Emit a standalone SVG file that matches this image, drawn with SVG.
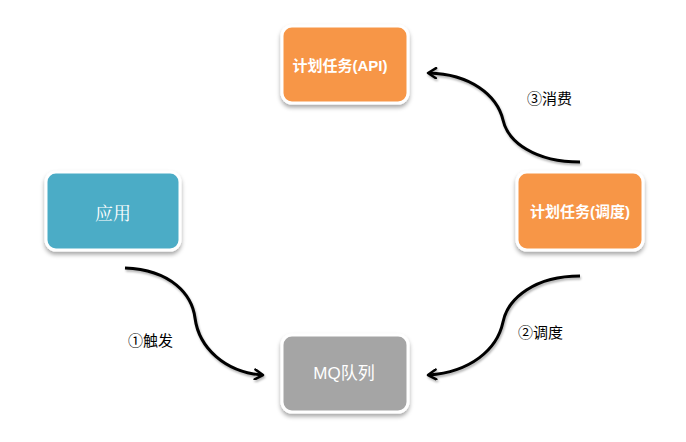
<svg xmlns="http://www.w3.org/2000/svg" width="686" height="442" viewBox="0 0 686 442">
<style>
.box{stroke:#fff;stroke-width:3;filter:url(#sh)}
.t{fill:#fff;font-family:"Liberation Sans","Noto Sans CJK SC",sans-serif;text-anchor:middle;dominant-baseline:central;font-weight:bold;font-size:15px}
.lbl{fill:#000;font-family:"Liberation Sans","Noto Sans CJK SC",sans-serif;font-size:15px;dominant-baseline:central}
.c{fill:none;stroke:#000;stroke-width:3;marker-end:url(#ah);filter:url(#sh2)}
</style>
<defs>
<filter id="sh" x="-20%" y="-20%" width="140%" height="150%">
<feDropShadow dx="0" dy="3" stdDeviation="2" flood-color="#000" flood-opacity="0.35"/>
</filter>
<filter id="sh2" x="-20%" y="-20%" width="140%" height="150%">
<feDropShadow dx="1" dy="2" stdDeviation="1.2" flood-color="#000" flood-opacity="0.3"/>
</filter>
<marker id="ah" markerWidth="12" markerHeight="12" refX="9" refY="6" orient="auto" markerUnits="userSpaceOnUse">
<path d="M2,1 L10,6 L2,11" fill="none" stroke="#000" stroke-width="2.5" stroke-linejoin="round" stroke-linecap="round"/>
</marker>
</defs>
<rect width="686" height="442" fill="#fff"/>
<g id="connectors">
<path class="c" d="M125,268 C172,270 192,295 195,318 C199,348 225,372 262,375"/>
<path class="c" d="M580,276 C535,276 508,298 503,322 C497,350 470,372 429,375"/>
<path class="c" d="M580,162 C535,162 508,142 503,120 C497,95 470,74 429,73"/>
</g>
<g id="n_api">
<rect class="box" x="282" y="26" width="126" height="77" rx="10" fill="#F79646"/>
<text class="t" x="340" y="65">计划任务(API)</text>
</g>
<g id="n_app">
<rect class="box" x="46" y="172" width="134" height="78" rx="10" fill="#4BACC6"/>
<text class="t" x="113" y="212" style="font-size:18px;font-weight:normal;font-family:'Noto Serif CJK SC','Noto Sans CJK SC',serif">应用</text>
</g>
<g id="n_sched">
<rect class="box" x="517" y="172" width="126" height="78" rx="10" fill="#F79646"/>
<text class="t" x="580" y="211">计划任务(调度)</text>
</g>
<g id="n_mq">
<rect class="box" x="282" y="335" width="126" height="77" rx="10" fill="#A5A5A5"/>
<text class="t" x="344" y="373" style="font-size:17px;font-weight:normal">MQ队列</text>
</g>
<text class="lbl" x="128" y="340">①触发</text>
<text class="lbl" x="518" y="332">②调度</text>
<text class="lbl" x="527" y="98">③消费</text>
</svg>
